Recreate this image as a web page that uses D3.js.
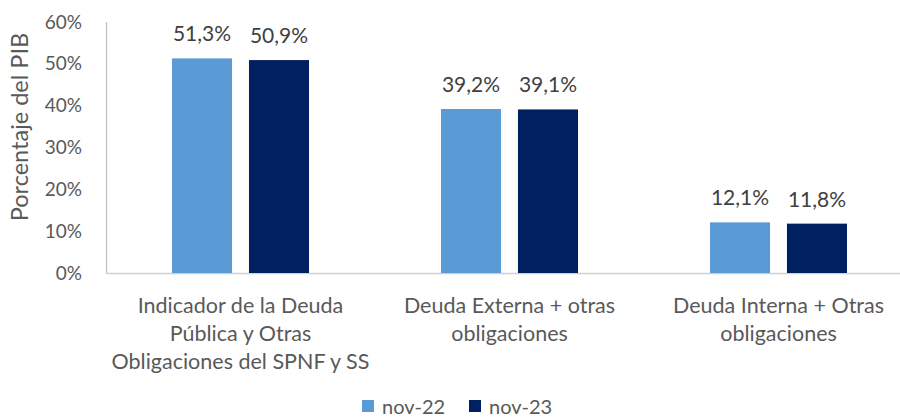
<!DOCTYPE html>
<html>
<head>
<meta charset="utf-8">
<script src="https://cdn.jsdelivr.net/npm/d3@7"></script>
<style>
  body { margin: 0; background: #fff; }
  svg text { font-family: Lato, "Open Sans", sans-serif; fill: #595959; }
</style>
</head>
<body>
<div id="chart-container"></div>
<script>
var categories = [
    ["Indicador de la Deuda", "Pública y Otras", "Obligaciones del SPNF y SS"],
    ["Deuda Externa + otras", "obligaciones"],
    ["Deuda Interna + Otras", "obligaciones"]
];
var seriesNames = ["nov-22", "nov-23"];
var nov22 = [51.3, 39.2, 12.1];
var nov23 = [50.9, 39.1, 11.8];
var yTicks = [0, 10, 20, 30, 40, 50, 60];
var colors = ["#5B9BD5", "#002060"];

var width = 900,
    height = 419,
    left = 106,
    baseY = 273,
    topY = 22;

var svg = d3.select("#chart-container").append("svg")
    .attr("width", width)
    .attr("height", height);

var x0 = d3.scaleBand()
    .domain(d3.range(categories.length))
    .range([left, left + 3 * 269]);

var x1 = d3.scaleBand()
    .domain(seriesNames)
    .range([0, 137])
    .paddingInner(0.22);

var y = d3.scaleLinear()
    .domain([0, 60])
    .range([baseY, topY]);

var fmt = v => d3.format(".1f")(v).replace(".", ",") + "%";

// axis lines
svg.append("line")
    .attr("x1", left).attr("x2", width)
    .attr("y1", baseY + 0.5).attr("y2", baseY + 0.5)
    .attr("stroke", "#d0d0d0").attr("stroke-width", 1.5);
svg.append("line")
    .attr("x1", left + 0.5).attr("x2", left + 0.5)
    .attr("y1", topY).attr("y2", baseY)
    .attr("stroke", "#bfbfbf").attr("stroke-width", 1.2);

// y tick labels
svg.append("g").selectAll("text")
    .data(yTicks).enter().append("text")
    .attr("x", 82)
    .attr("y", d => y(d))
    .attr("dy", "0.35em")
    .attr("text-anchor", "end")
    .style("font-size", "19px")
    .text(d => d + "%");

svg.append("text")
    .attr("transform", "translate(28,127) rotate(-90)")
    .attr("text-anchor", "middle")
    .style("font-size", "23.5px")
    .text("Porcentaje del PIB");

var rows = categories.map((c, i) => ({ i: i, vals: [nov22[i], nov23[i]] }));

var groups = svg.append("g").selectAll("g")
    .data(rows).enter().append("g")
    .attr("transform", d => "translate(" + (x0(d.i) + x0.bandwidth() / 2 - 68.5) + ",0)");

groups.selectAll("rect")
    .data(d => d.vals.map((v, k) => ({ k: k, v: v })))
    .enter().append("rect")
    .attr("x", d => x1(seriesNames[d.k]))
    .attr("y", d => y(d.v))
    .attr("width", x1.bandwidth())
    .attr("height", d => baseY - y(d.v))
    .attr("fill", d => colors[d.k]);

groups.selectAll("text.lbl")
    .data(d => d.vals.map((v, k) => ({ k: k, v: v })))
    .enter().append("text")
    .attr("class", "lbl")
    .attr("x", d => x1(seriesNames[d.k]) + x1.bandwidth() / 2)
    .attr("y", d => y(d.v) - 17)
    .attr("text-anchor", "middle")
    .style("font-size", "21px")
    .style("fill", "#404040")
    .text(d => fmt(d.v));

// category labels
svg.append("g").selectAll("text")
    .data(categories).enter().append("text")
    .attr("text-anchor", "middle")
    .style("font-size", "21.5px")
    .each(function (d, i) {
        d3.select(this).selectAll("tspan")
            .data(d).enter().append("tspan")
            .attr("x", x0(i) + x0.bandwidth() / 2)
            .attr("y", (t, j) => 313 + j * 28)
            .text(t => t);
    });

// legend
var legend = svg.append("g");
var legX = [362, 469];
seriesNames.forEach((s, k) => {
    legend.append("rect")
        .attr("x", legX[k]).attr("y", 400)
        .attr("width", 12).attr("height", 12)
        .attr("fill", colors[k]);
    legend.append("text")
        .attr("x", legX[k] + 20).attr("y", 407)
        .attr("dy", "0.35em")
        .style("font-size", "20px")
        .text(s);
});
</script>
</body>
</html>
